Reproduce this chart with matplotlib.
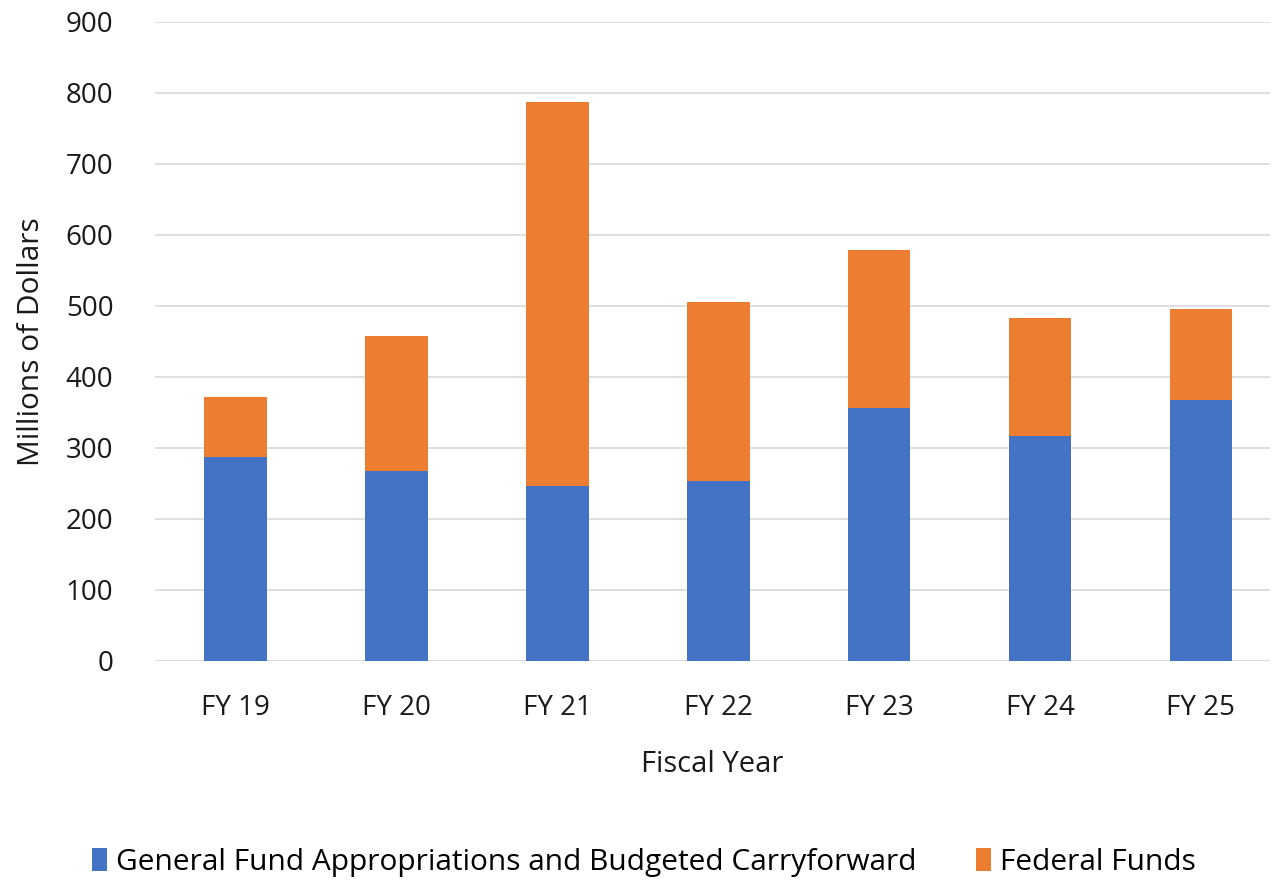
import numpy as np
import matplotlib.pyplot as plt

plt.rcParams['font.family'] = ['Open Sans', 'DejaVu Sans']

years = ['FY 19', 'FY 20', 'FY 21', 'FY 22', 'FY 23', 'FY 24', 'FY 25']
general_fund = [287, 268, 247, 253, 357, 317, 367]
federal_funds = [85, 190, 540, 252, 222, 166, 129]

fig = plt.figure(figsize=(12.72, 8.8), dpi=100)
ax = fig.add_axes([0.1219, 0.2489, 0.8766, 0.7261])

x = np.arange(len(years))
ax.bar(x, general_fund, width=0.39, color='#4472C4', zorder=3,
       label='General Fund Appropriations and Budgeted Carryforward')
ax.bar(x, federal_funds, width=0.39, bottom=general_fund, color='#ED7D31', zorder=3,
       label='Federal Funds')

ax.set_ylim(0, 900)
ax.set_xlim(-0.5, 6.43)
ax.set_yticks(range(0, 901, 100))
ax.set_xticks(x)
ax.set_xticklabels(years)
ax.grid(axis='y', color='#d9d9d9', linewidth=1.2, zorder=0)
for s in ax.spines.values():
    s.set_visible(False)
ax.axhline(0, color='#d9d9d9', linewidth=1.2, zorder=1)
ax.tick_params(length=0, labelsize=20, colors='#1a1a1a')
ax.tick_params(axis='x', pad=24)
ax.tick_params(axis='y', pad=30)

ax.set_xlabel('Fiscal Year', fontsize=21, color='#1a1a1a', labelpad=20)
ax.set_ylabel('Millions of Dollars', fontsize=21.5, color='#1a1a1a', labelpad=14)

fig.legend(loc='center', bbox_to_anchor=(0.506, 0.02), ncol=2, frameon=False,
           fontsize=21.5, handlelength=0.5, handleheight=0.8, handletextpad=0.3,
           columnspacing=2.0)

fig.savefig('out.png', dpi=100)
